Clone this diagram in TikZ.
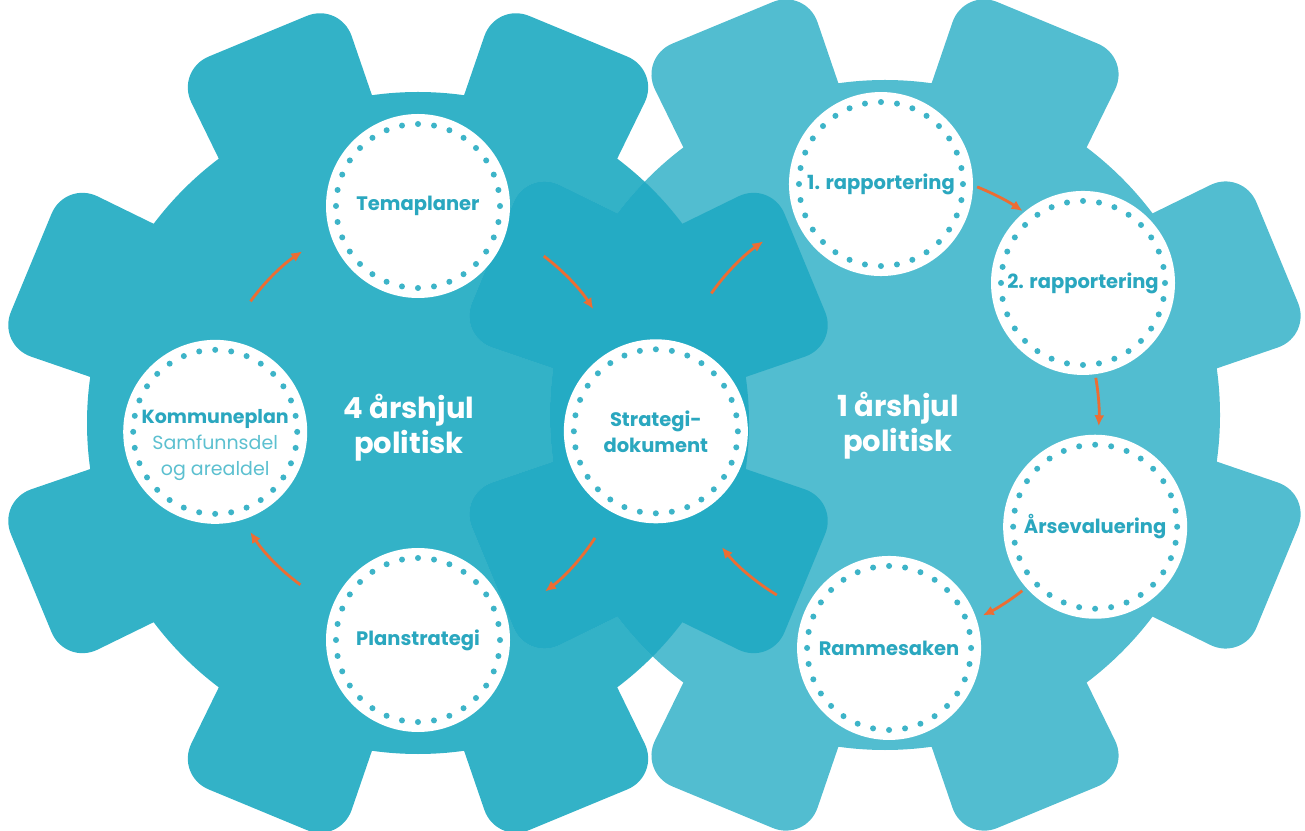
\documentclass[tikz,border=0pt]{standalone}
\usepackage{fontspec}
\setmainfont{Poppins}
\usetikzlibrary{arrows.meta}

\definecolor{leftgear}{HTML}{33B2C7}
\definecolor{rightgear}{HTML}{52BDD0}
\definecolor{bothgears}{HTML}{24ABC4}
\definecolor{plantext}{HTML}{2AA7BF}
\definecolor{softtext}{HTML}{5CC0D0}
\definecolor{dotteal}{HTML}{3DB4C8}
\definecolor{arroworange}{HTML}{EC6D33}

% gear outline: centre, root radius, tip radius
\newcommand{\gearpath}[3]{([shift={(0:#2)}]#1)
  \foreach \a in {22.5,67.5,...,337.5}{
    arc[start angle=\a-22.5, end angle=\a-14.5, radius=#2]
    [rounded corners=36pt] -- ([shift={(\a-12:#3)}]#1) -- ([shift={(\a+12:#3)}]#1)
    [sharp corners] -- ([shift={(\a+14.5:#2)}]#1)
    arc[start angle=\a+14.5, end angle=\a+22.5, radius=#2]} -- cycle}

\tikzset{
  stage/.style={circle, fill=white, minimum size=184pt, inner sep=0pt, align=center,
    text=plantext, font=\bfseries\fontsize{19.5}{26}\selectfont,
    path picture={\draw[dotring] (path picture bounding box.center) circle[radius=82pt];}},
  dotring/.style={dotteal, line width=6pt, line cap=round, dash pattern=on 0pt off 16.1pt},
  hub/.style={text=white, align=center, font=\bfseries\fontsize{29}{35}\selectfont},
  flow/.style={arroworange, line width=2.8pt, -{Latex[length=11pt, width=10pt]}}
}

\begin{document}
\begin{tikzpicture}[x=1pt, y=1pt]
  \useasboundingbox (0,0) rectangle (1305,830);
  \coordinate (lc) at (418,407);
  \coordinate (rc) at (885,415);

  % the two wheels
  \fill[leftgear] \gearpath{lc}{331pt}{428pt};
  \fill[rightgear] \gearpath{rc}{335pt}{434pt};
  \begin{scope}
    \clip \gearpath{lc}{331pt}{428pt};
    \fill[bothgears] \gearpath{rc}{335pt}{434pt};
  \end{scope}

  % left wheel
  \node[stage] (tema) at ([shift=(90:217)] lc) {Temaplaner};
  \node[stage, font=\bfseries\fontsize{19}{26}\selectfont] (kommune) at ([shift=(182.5:203)] lc)
    {\mbox{}\\[15pt]Kommuneplan\\{\mdseries\color{softtext}Samfunnsdel}\\{\mdseries\color{softtext}og arealdel}};
  \node[stage] (plan) at ([shift=(270:217)] lc) {Planstrategi};
  \node[stage] (strategi) at ([shift=(-2:238)] lc) {Strategi-\\dokument};

  % right wheel
  \node[stage] (rapport1) at ([shift=(91:231)] rc) {1. rapportering};
  \node[stage] (rapport2) at ([shift=(33.7:238)] rc) {2. rapportering};
  \node[stage] (evaluering) at ([shift=(-28:238)] rc) {Årsevaluering};
  \node[stage] (rammesak) at ([shift=(-89:233)] rc) {Rammesaken};

  \node[hub] (fireyear) at ([shift={(-9,-5)}] lc) {4 årshjul\\politisk};
  \node[hub] (oneyear) at ([shift={(13,-11)}] rc) {1 årshjul\\politisk};

  % flow round the left wheel
  \draw[flow] ([shift=(144:207)] lc) arc[start angle=144, end angle=124, radius=207pt];
  \draw[flow] ([shift=(53:209)] lc) arc[start angle=53, end angle=33, radius=209pt];
  \draw[flow] ([shift=(-33:211)] lc) arc[start angle=-33, end angle=-53, radius=211pt];
  \draw[flow] ([shift=(234:200)] lc) arc[start angle=234, end angle=213, radius=200pt];

  % flow round the right wheel
  \draw[flow] ([shift=(145:212)] rc) arc[start angle=145, end angle=125, radius=212pt];
  \draw[flow] ([shift=(68:246)] rc) arc[start angle=68, end angle=56, radius=246pt];
  \draw[flow] ([shift=(10:214)] rc) arc[start angle=10, end angle=-3, radius=214pt];
  \draw[flow] ([shift=(-52:223)] rc) arc[start angle=-52, end angle=-64, radius=223pt];
  \draw[flow] ([shift=(239:210)] rc) arc[start angle=239, end angle=219, radius=210pt];
\end{tikzpicture}
\end{document}
